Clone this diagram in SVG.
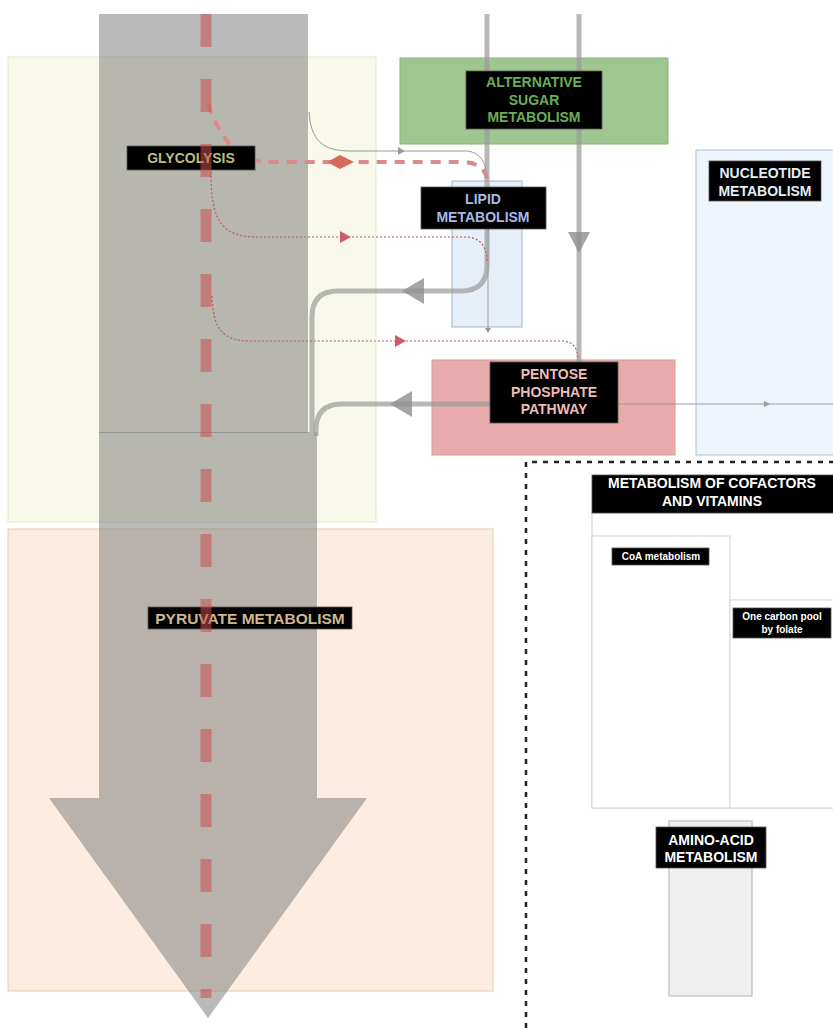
<svg xmlns="http://www.w3.org/2000/svg" width="833" height="1028" viewBox="0 0 833 1028">
<defs>
<style>
.lbl{fill:#000;stroke:#555;stroke-width:0.8}
.t{font-family:"Liberation Sans",Arial,sans-serif;font-weight:bold;text-anchor:middle}
.t14{font-size:14px}
.t10{font-size:10px}
.thick{fill:none;stroke:#9a9a9a;stroke-opacity:0.7;stroke-width:5}
.thin{fill:none;stroke:#9a9a9a;stroke-width:1}
.dot{fill:none;stroke:#c05858;stroke-width:1.2;stroke-dasharray:2 2}
.shaft{fill:#767676;fill-opacity:0.5}
</style>
</defs>

<g id="glycolysis-box"><rect x="8" y="57" width="368" height="465" fill="#f8f9ea" stroke="#e3e6c8" stroke-width="1"/></g>
<g id="pyruvate-box"><rect x="8" y="529" width="485" height="462" fill="#fcede0" stroke="#e8cba8" stroke-width="1"/></g>
<g id="alt-sugar-box"><rect x="400" y="58" width="268" height="86" fill="#9fc690" stroke="#8ab67a" stroke-width="1"/></g>
<g id="nucleotide-box"><rect x="696" y="150" width="145" height="305" fill="#eef5fc" stroke="#aec2d4" stroke-width="1"/></g>
<g id="lipid-box"><rect x="452" y="181" width="70" height="146" fill="#e6eef8" stroke="#9fb4d2" stroke-width="1"/></g>
<g id="pentose-box"><rect x="432" y="360" width="243" height="95" fill="#e8abab" stroke="#d89a9a" stroke-width="1"/></g>
<g id="cofactors-region">
<path d="M526 1028 L526 462 L840 462" fill="none" stroke="#222" stroke-width="2.5" stroke-dasharray="5 6"/>
<rect x="592" y="513" width="250" height="295" fill="#fff" stroke="#cfcfcf" stroke-width="1"/>
</g>
<g id="coa-box"><rect x="592" y="536" width="138" height="272" fill="#fff" stroke="#d4d4d4" stroke-width="1"/></g>
<g id="one-carbon-box"><rect x="730" y="600" width="110" height="208" fill="#fff" stroke="#d4d4d4" stroke-width="1"/></g>
<g id="amino-acid-box"><rect x="669" y="821" width="83" height="175" fill="#f0f0f0" stroke="#bcbcbc" stroke-width="1.2"/></g>

<g id="main-arrow">
<rect class="shaft" x="99" y="14" width="209" height="419"/>
<rect class="shaft" x="99" y="432" width="218" height="366"/>
<polygon class="shaft" points="49,798 367,798 208,1018"/>
</g>

<g id="connectors">
<path class="thick" d="M487 14 L487 265 Q487 291 461 291 L338 291 Q312 291 312 317 L312 432"/>
<polygon points="402,291 424,278 424,304" fill="#8f8f8f" fill-opacity="0.8"/>
<path class="thick" d="M579 14 L579 362"/>
<polygon points="568,232 590,232 579,253" fill="#8f8f8f" fill-opacity="0.8"/>
<path class="thick" d="M490 404 L342 404 Q316 404 316 430 L316 436"/>
<polygon points="390,404 412,391 412,417" fill="#8f8f8f" fill-opacity="0.8"/>
<path class="thin" d="M618 404 L833 404"/>
<path d="M764 401 L770 404 L764 407 z" fill="#9a9a9a"/>
<path class="thin" d="M488 229 L488 332"/>
<path d="M485 328 L488 333 L491 328 z" fill="#9a9a9a"/>
<path class="thin" d="M309 112 C311 140 322 151 350 151 L465 151 C479 151 487 162 487 178"/>
<path d="M398 147 L405 151 L398 155 z" fill="#9a9a9a"/>
<path d="M208 104 C222 140 236 162 272 162 L462 162 C478 162 487 170 487 182" fill="none" stroke="#dd8a8a" stroke-width="4" stroke-dasharray="10 8"/>
<polygon points="327,162 340,155 354,162 340,169" fill="#d86a5c"/>
<path class="dot" d="M211 172 C211 222 222 237 258 237 L465 237 C480 237 487 246 487 262"/>
<path d="M340 231 L351 237 L340 243 z" fill="#d05a6a"/>
<path class="dot" d="M212 296 C213 328 222 341 250 341 L562 341 C573 341 578 348 578 360"/>
<path d="M395 335 L406 341 L395 347 z" fill="#d05a6a"/>
</g>

<g id="glycolysis-label"><rect class="lbl" x="127" y="146" width="128" height="24"/><text class="t t14" x="191" y="163" fill="#bcbd7e">GLYCOLYSIS</text></g>
<g id="pyruvate-label"><rect class="lbl" x="148" y="607" width="204" height="22"/><text class="t" x="250" y="623.5" font-size="15.5" fill="#cfb78f">PYRUVATE METABOLISM</text></g>
<g id="alt-sugar-label"><rect class="lbl" x="466" y="71" width="136" height="58"/><text class="t t14" x="534" y="87" fill="#6cae57"><tspan x="534">ALTERNATIVE</tspan><tspan x="534" dy="17.5">SUGAR</tspan><tspan x="534" dy="17.5">METABOLISM</tspan></text></g>
<g id="lipid-label"><rect class="lbl" x="421" y="187" width="125" height="42"/><text class="t t14" x="483" y="204" fill="#a7bbe6"><tspan x="483">LIPID</tspan><tspan x="483" dy="18">METABOLISM</tspan></text></g>
<g id="nucleotide-label"><rect class="lbl" x="709" y="161" width="112" height="40"/><text class="t t14" x="765" y="178" fill="#e2edf5"><tspan x="765">NUCLEOTIDE</tspan><tspan x="765" dy="18">METABOLISM</tspan></text></g>
<g id="pentose-label"><rect class="lbl" x="490" y="362" width="128" height="61"/><text class="t t14" x="554" y="379" fill="#efbdb6"><tspan x="554">PENTOSE</tspan><tspan x="554" dy="17.5">PHOSPHATE</tspan><tspan x="554" dy="17.5">PATHWAY</tspan></text></g>
<g id="cofactors-label"><rect class="lbl" x="592" y="475" width="250" height="38"/><text class="t t14" x="712" y="488" fill="#fff"><tspan x="712">METABOLISM OF COFACTORS</tspan><tspan x="712" dy="18">AND VITAMINS</tspan></text></g>
<g id="coa-label"><rect class="lbl" x="612" y="548" width="97" height="17"/><text class="t t10" x="661" y="560" fill="#fff">CoA metabolism</text></g>
<g id="one-carbon-label"><rect class="lbl" x="733" y="608" width="98" height="30"/><text class="t t10" x="782" y="620" fill="#fff"><tspan x="782">One carbon pool</tspan><tspan x="782" dy="13">by folate</tspan></text></g>
<g id="amino-acid-label"><rect class="lbl" x="656" y="827" width="110" height="41"/><text class="t t14" x="711" y="845" fill="#fff"><tspan x="711">AMINO-ACID</tspan><tspan x="711" dy="17">METABOLISM</tspan></text></g>

<g id="main-flow-dashes">
<path d="M206 14 L206 998" fill="none" stroke="#c84e4e" stroke-opacity="0.55" stroke-width="11" stroke-dasharray="33 32"/>
</g>
</svg>
